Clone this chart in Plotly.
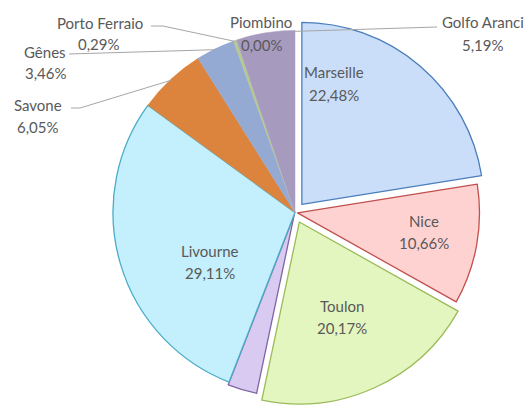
import math
import plotly.graph_objects as go

# ---- data ----
categories = ["Marseille", "Nice", "Toulon", "Autres", "Livourne",
              "Savone", "Gênes", "Porto Ferraio", "Piombino", "Golfo Aranci"]
shares = [22.48, 10.66, 20.17, 2.59, 29.11, 6.05, 3.46, 0.29, 0.00, 5.19]
shown = [True, True, True, False, True, True, True, True, True, True]

# ---- styles ----
fill_colors = ["#cadef9", "#ffd2d2", "#e3f6c0", "#d8caf0", "#c4effc",
               "#dc843d", "#95aad2", "#b7ca8e", "#c8b8e0", "#a79abf"]
line_colors = ["#4a7ebb", "#c0504d", "#9bbb59", "#8064a2", "#4bacc6",
               "#dc843d", "#95aad2", "#b7ca8e", "#c8b8e0", "#a79abf"]
line_widths = [1.3, 1.3, 1.3, 1.3, 1.3, 0.5, 0.5, 0.5, 0.5, 0.5]
pulls = [0.058, 0.014, 0.058, 0.016, 0, 0, 0, 0, 0, 0]

W, H = 532, 405
CX, CY, R = 295, 212.4, 182
half = R * (1 + max(pulls))
dom_x = [(CX - half) / W, (CX + half) / W]
dom_y = [max(0, 1 - (CY + half) / H), min(1, 1 - (CY - half) / H)]

FONT = "Lato"
TXT = "#595959"

def px2paper(x, y):
    return x / W, 1 - y / H

def pct(v):
    return f"{v:.2f}".replace(".", ",") + "%"

total = sum(shares)
cum = []
c = 0
for v in shares:
    cum.append((c, c + v))
    c += v

def arc_point(frac, r=R):
    a = math.radians(frac / total * 360)
    return CX + r * math.sin(a), CY - r * math.cos(a)

fig = go.Figure(go.Pie(
    labels=categories, values=shares, sort=False, direction="clockwise",
    rotation=0, pull=pulls, textinfo="none", hoverinfo="label+percent",
    marker=dict(colors=fill_colors, line=dict(color=line_colors, width=line_widths)),
    domain=dict(x=dom_x, y=dom_y), showlegend=False,
))

# label positions (pixel centres of name / value lines)
label_pos = {
    "Marseille": (334, 72, 334, 95),
    "Nice": (424, 221, 424, 243),
    "Toulon": (342, 306, 342, 328),
    "Livourne": (210, 251, 210, 273),
    "Savone": (38, 105, 38, 127),
    "Gênes": (45, 52, 46, 73),
    "Porto Ferraio": (100, 23, 99, 44),
    "Piombino": (261, 22, 262, 45),
    "Golfo Aranci": (483, 22, 483, 45),
}

annotations = []
for name, v, s in zip(categories, shares, shown):
    if not s:
        continue
    x1, y1, x2, y2 = label_pos[name]
    for (tx, ty, t) in ((x1, y1, name), (x2, y2, pct(v))):
        px, py = px2paper(tx, ty)
        annotations.append(dict(x=px, y=py, xref="paper", yref="paper", text=t,
                                showarrow=False, xanchor="center", yanchor="middle",
                                font=dict(family=FONT, size=15, color=TXT)))

# leader lines: start, optional elbow, end on slice arc
leaders = {
    "Savone": ((71, 108), (80, 108), "mid"),
    "Gênes": ((69, 54), None, "mid"),
    "Porto Ferraio": ((151, 26), (163, 26), "mid"),
    "Golfo Aranci": ((437, 27), None, "end"),
}
shapes = []
for name, (start, elbow, where) in leaders.items():
    i = categories.index(name)
    a0, a1 = cum[i]
    frac = (a0 + a1) / 2 if where == "mid" else a1 - 0.15
    ex, ey = arc_point(frac, R - 1)
    pts = [start] + ([elbow] if elbow else []) + [(ex, ey)]
    path = ""
    for k, (x, y) in enumerate(pts):
        px, py = px2paper(x, y)
        path += ("M" if k == 0 else "L") + f"{px:.5f},{py:.5f} "
    shapes.append(dict(type="path", path=path.strip(), xref="paper", yref="paper",
                       line=dict(color="#a6a6a6", width=1)))

fig.update_layout(
    width=W, height=H, margin=dict(l=0, r=0, t=0, b=0),
    paper_bgcolor="white", plot_bgcolor="white",
    annotations=annotations, shapes=shapes,
    font=dict(family=FONT, color=TXT),
)

fig.write_html("out.html", config={"displayModeBar": False},
               post_script="document.body.style.margin='0';")
